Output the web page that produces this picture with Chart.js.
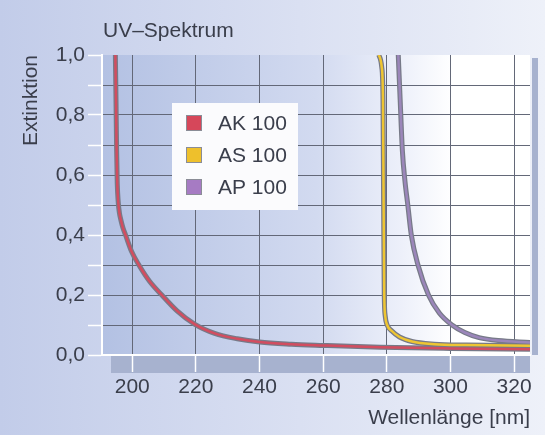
<!DOCTYPE html>
<html lang="de">
<head>
  <meta charset="UTF-8" />
  <title>UV-Spektrum</title>
  <style>
    body { margin: 0; background: #dfe4f4; }
    #wrap { width: 545px; height: 435px; }
  </style>
  <script src="https://cdn.jsdelivr.net/npm/chart.js"></script>
</head>
<body>
  <div id="wrap"><canvas id="uvChart"></canvas></div>
  <script>
    // Werte
    const seriesNames = ['AK 100', 'AS 100', 'AP 100'];
    const wavelengthAK = [194.7, 194.9, 195.1, 195.3, 195.6, 195.95, 196.5, 197.1, 197.9, 199.8, 202.1, 205.5, 209.3, 214, 219.7, 225.9, 233, 240, 250, 260, 278, 300, 325];
    const extinctionAK = [1.0, 0.85, 0.68, 0.57, 0.51, 0.475, 0.447, 0.423, 0.4, 0.345, 0.3, 0.245, 0.2, 0.148, 0.102, 0.072, 0.054, 0.043, 0.036, 0.032, 0.026, 0.022, 0.019];
    const wavelengthAS = [277.5, 278.4, 278.8, 279.0, 279.2, 279.5, 280.1, 281.6, 284, 287.9, 295, 305, 325];
    const extinctionAS = [1.0, 0.96, 0.85, 0.5, 0.2, 0.13, 0.1, 0.08, 0.06, 0.045, 0.036, 0.033, 0.031];
    const wavelengthAP = [283.6, 284.2, 284.9, 285.7, 286.6, 287.7, 289.8, 293.1, 296.5, 300.5, 304.5, 309, 315, 325];
    const extinctionAP = [1.0, 0.85, 0.68, 0.58, 0.5, 0.4, 0.3, 0.2, 0.14, 0.1, 0.075, 0.058, 0.048, 0.042];
    const xTicks = [200, 220, 240, 260, 280, 300, 320];
    const yTicks = [0, 0.1, 0.2, 0.3, 0.4, 0.5, 0.6, 0.7, 0.8, 0.9, 1.0];
    const yTickLabels = ['0,0', '', '0,2', '', '0,4', '', '0,6', '', '0,8', '', '1,0'];

    const lineColors = ['#d24d60', '#eec532', '#9b86ba'];
    const legendColors = ['#d6475a', '#eec02c', '#a67bc3'];
    const outlineColor = '#777a88';
    const textColor = '#3a3e4b';

    Chart.defaults.font.family = '"Liberation Sans", Arial, sans-serif';
    Chart.defaults.font.size = 21;
    Chart.defaults.color = textColor;

    const toPoints = (xs, ys) => xs.map((x, i) => ({ x: x, y: ys[i] }));
    const series = [
      toPoints(wavelengthAK, extinctionAK),
      toPoints(wavelengthAS, extinctionAS),
      toPoints(wavelengthAP, extinctionAP)
    ];

    const datasets = [];
    // graue Kontur unter jeder Kurve (hoehere order = weiter hinten)
    series.forEach((pts, i) => {
      datasets.push({
        label: seriesNames[i] + ' Kontur', data: pts, borderColor: outlineColor,
        borderWidth: 5, pointRadius: 0, cubicInterpolationMode: 'monotone', order: 2
      });
    });
    series.forEach((pts, i) => {
      datasets.push({
        label: seriesNames[i], data: pts, borderColor: lineColors[i],
        backgroundColor: lineColors[i], borderWidth: 2.5, pointRadius: 0,
        cubicInterpolationMode: 'monotone', order: 1
      });
    });

    const backdrop = {
      id: 'backdrop',
      beforeDraw(chart) {
        const { ctx, chartArea: a, width, height } = chart;
        ctx.save();
        let g = ctx.createLinearGradient(0, 0, width, 0);
        g.addColorStop(0, '#c2cce9');
        g.addColorStop(0.55, '#dae0f2');
        g.addColorStop(1, '#eef1f9');
        ctx.fillStyle = g;
        ctx.fillRect(0, 0, width, height);

        g = ctx.createLinearGradient(a.left, 0, a.right, 0);
        g.addColorStop(0, '#b3c1e3');
        g.addColorStop(0.5, '#d2daf0');
        g.addColorStop(0.7, '#edf0fa');
        g.addColorStop(0.82, '#ffffff');
        g.addColorStop(1, '#ffffff');
        ctx.fillStyle = g;
        ctx.fillRect(a.left, a.top, a.right - a.left, a.bottom - a.top);

        // Schattenband unten und rechts
        ctx.fillStyle = '#a7b2cf';
        ctx.fillRect(a.left + 9, a.bottom + 1, a.right - a.left - 9, 17);
        ctx.fillRect(a.right + 2, a.top + 3, 6, a.bottom - a.top - 3);

        // Titel
        ctx.fillStyle = textColor;
        ctx.font = '21px "Liberation Sans", Arial, sans-serif';
        ctx.textBaseline = 'alphabetic';
        ctx.textAlign = 'left';
        ctx.fillText('UV\u2013Spektrum', 103, 37);
        ctx.restore();
      }
    };

    const legendBox = {
      id: 'legendBox',
      afterDatasetsDraw(chart) {
        const { ctx } = chart;
        const boxX = 172, boxY = 103, boxW = 126, boxH = 107;
        ctx.save();
        ctx.fillStyle = '#fbfbfd';
        ctx.fillRect(boxX, boxY, boxW, boxH);
        ctx.font = '21px "Liberation Sans", Arial, sans-serif';
        ctx.textBaseline = 'middle';
        ctx.textAlign = 'left';
        seriesNames.forEach((name, i) => {
          const cy = 123 + i * 32;
          ctx.fillStyle = legendColors[i];
          ctx.fillRect(186, cy - 8, 16, 16);
          ctx.strokeStyle = '#8a8c96';
          ctx.lineWidth = 1;
          ctx.strokeRect(186.5, cy - 7.5, 15, 15);
          ctx.fillStyle = textColor;
          ctx.fillText(name, 218, cy + 1);
        });
        ctx.restore();
      }
    };

    const gridColor = '#636878';

    new Chart(document.getElementById('uvChart'), {
      type: 'line',
      data: { datasets: datasets },
      plugins: [backdrop, legendBox],
      options: {
        responsive: true,
        maintainAspectRatio: false,
        animation: false,
        layout: { padding: { top: 55, right: 15, left: 0, bottom: 0 } },
        plugins: {
          legend: { display: false },
          title: { display: false },
          tooltip: { enabled: false }
        },
        scales: {
          x: {
            type: 'linear',
            min: 190.5,
            max: 325,
            afterFit(scale) { scale.height = 80; },
            afterBuildTicks(scale) { scale.ticks = xTicks.map(v => ({ value: v })); },
            grid: { color: gridColor, lineWidth: 1, tickColor: '#ffffff', tickLength: 17, tickWidth: 1.5 },
            border: { color: '#ffffff', width: 2 },
            ticks: { padding: 3, maxRotation: 0, callback: v => String(v) },
            title: { display: true, text: 'Wellenlänge [nm]', align: 'end', padding: { top: 0, bottom: 4 } }
          },
          y: {
            min: 0,
            max: 1,
            afterFit(scale) { scale.width = 102; },
            afterBuildTicks(scale) { scale.ticks = yTicks.map(v => ({ value: v })); },
            grid: {
              color: c => (c.tick && (c.tick.value === 0 || c.tick.value === 1)) ? 'rgba(0,0,0,0)' : gridColor,
              lineWidth: 1, tickColor: '#ffffff', tickLength: 14, tickWidth: 1.5
            },
            border: { color: '#ffffff', width: 2 },
            ticks: { padding: 3, callback: (v, i) => yTickLabels[i] },
            title: { display: true, text: 'Extinktion', align: 'end', padding: { top: 19, bottom: 0 } }
          }
        }
      }
    });
  </script>
</body>
</html>
